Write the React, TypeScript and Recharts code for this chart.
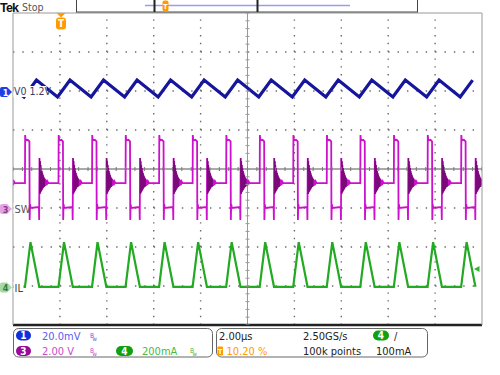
import React from "react";
import { ComposedChart, Line, XAxis, YAxis, ReferenceLine, Scatter } from "recharts";

// ---- screen graduations (2.00 µs/div, 10 x 8 divisions) ----
const majorTime = [0, 2, 4, 6, 8, 10, 12, 14, 16, 18, 20];
const majorDiv = [-4, -3, -2, -1, 0, 1, 2, 3, 4];
const minorTime = Array.from({ length: 51 }, (_, i) => i * 0.4);
const minorDiv = Array.from({ length: 41 }, (_, i) => -4 + i * 0.2);

// ---- switching cycles: SW rising edges (µs) ----
const swEdges = [-0.92, 0.51, 1.94, 3.37, 4.8, 6.23, 7.66, 9.09, 10.52, 11.95, 13.38, 14.81, 16.24, 17.68, 19.11];

// ---- CH1 VO : 20.0 mV/div, offset 1.2 V, marker at +1.97 div ----
const voPos = 1.97;
const voScale = 20;
const voPhase = [-0.04, 0.49];
const voMv = [-2.5, 6.2];

// ---- CH3 SW : 2.00 V/div, marker at -1 div ----
const swPos = -1.0;
const swScale = 2;
const swPhase = [0, 0.008, 0.03, 0.12, 0.19, 0.2, 0.215, 0.24, 0.595, 0.605, 0.62, 0.632, 0.644, 0.656, 0.668, 0.68, 0.692, 0.704, 0.716, 0.728, 0.74, 0.752, 0.764, 0.776, 0.788, 0.8, 0.815, 0.83, 0.85, 0.87, 0.9, 0.93, 0.96, 1.0];
const swVolt = [1.28, 3.74, 3.46, 3.5, 3.42, -0.62, 0.2, 0.0, 0.05, -0.62, 2.56, 0.72, 2.4, 0.8, 2.2, 0.85, 2.05, 0.9, 1.9, 0.95, 1.8, 1.0, 1.7, 1.05, 1.62, 1.08, 1.55, 1.1, 1.5, 1.14, 1.44, 1.18, 1.36, 1.28];
const ringPhase = [0.62, 0.632, 0.644, 0.656, 0.668, 0.68, 0.692, 0.704, 0.716, 0.728, 0.74, 0.752, 0.764, 0.776, 0.788, 0.8, 0.815, 0.83, 0.85];
const ringVolt = [2.56, 0.72, 2.4, 0.8, 2.2, 0.85, 2.05, 0.9, 1.9, 0.95, 1.8, 1.0, 1.7, 1.05, 1.62, 1.08, 1.55, 1.1, 1.5];

// ---- CH4 IL : 200 mA/div, marker at -3.04 div ----
const ilPos = -3.04;
const ilScale = 200;
const ilPhase = [0, 0.235, 0.61];
const ilMa = [4, 233, 4];

type Pt = { t: number; y: number | null };
function build(phases: number[], values: number[], pos: number, scale: number, gap = false): Pt[] {
  const out: Pt[] = [];
  swEdges.forEach((e) => {
    phases.forEach((p, i) => out.push({ t: e + p, y: pos + values[i] / scale }));
    if (gap) out.push({ t: e + phases[phases.length - 1] + 0.001, y: null });
  });
  return out;
}

const voData = build(voPhase, voMv, voPos, voScale);
const swData = build(swPhase, swVolt, swPos, swScale);
const ringData = build(ringPhase, ringVolt, swPos, swScale, true);
const ilData = build(ilPhase, ilMa, ilPos, ilScale);

const hTicks = minorTime.map((t) => ({ t, y: 0 }));
const vTicks = minorDiv.map((d) => ({ t: 10, y: d }));

const NARROW = "'Liberation Sans Narrow','DejaVu Sans Condensed','Arial Narrow',sans-serif";
const ORANGE = "#ff9b00";
const GRID = "#6a6a6a";

const tag = (c: number) =>
  `M2,${c - 5} H7 L12,${c} L7,${c + 5} H2 Q0,${c + 5} 0,${c + 3} V${c - 3} Q0,${c - 5} 2,${c - 5} Z`;

function Pill({ x, y, w, fill, label }: { x: number; y: number; w: number; fill: string; label: string }) {
  return (
    <g>
      <rect x={x} y={y} width={w} height={10} rx={5} fill={fill} />
      <text x={x + w / 2} y={y + 8.5} fontSize={10} fontWeight="bold" fill="#fff" textAnchor="middle">
        {label}
      </text>
    </g>
  );
}

function Bw({ x, y, color }: { x: number; y: number; color: string }) {
  return (
    <g fill={color}>
      <text x={x} y={y} fontSize={6.5}>B</text>
      <text x={x + 2.5} y={y + 3.5} fontSize={6}>w</text>
    </g>
  );
}

export default function App() {
  return (
    <div style={{ position: "absolute", left: 0, top: 0, width: 500, height: 375, background: "#fff" }}>
      <ComposedChart width={500} height={375} margin={{ top: 13, right: 18, bottom: 50, left: 13 }}>
        <XAxis xAxisId="x" dataKey="t" type="number" domain={[0, 20]} ticks={majorTime} allowDataOverflow mirror axisLine={false} tickLine={false} tick={false} />
        <YAxis yAxisId="y" dataKey="y" type="number" domain={[-4, 4]} ticks={majorDiv} allowDataOverflow mirror axisLine={false} tickLine={false} tick={false} />
        <XAxis xAxisId="top" orientation="top" type="number" domain={[0, 20]} ticks={minorTime} allowDataOverflow mirror tickSize={3} tick={false} axisLine={{ stroke: "#999" }} tickLine={{ stroke: "#888" }} />
        <XAxis xAxisId="bottom" orientation="bottom" type="number" domain={[0, 20]} ticks={minorTime} allowDataOverflow mirror tickSize={3} tick={false} axisLine={{ stroke: "#222", strokeWidth: 2.5 }} tickLine={{ stroke: "#888" }} />
        <YAxis yAxisId="left" orientation="left" type="number" domain={[-4, 4]} ticks={minorDiv} allowDataOverflow mirror tickSize={3} tick={false} axisLine={{ stroke: "#999" }} tickLine={{ stroke: "#888" }} />
        <YAxis yAxisId="right" orientation="right" type="number" domain={[-4, 4]} ticks={minorDiv} allowDataOverflow mirror tickSize={3} tick={false} axisLine={{ stroke: "#999" }} tickLine={{ stroke: "#888" }} />
        {majorTime.filter((t) => t > 0 && t < 20 && t !== 10).map((t) => (
          <ReferenceLine key={"gx" + t} xAxisId="x" yAxisId="y" x={t} stroke={GRID} strokeWidth={1.4} strokeDasharray="1.4 6.4" />
        ))}
        {majorDiv.filter((d) => d > -4 && d < 4 && d !== 0).map((d) => (
          <ReferenceLine key={"gy" + d} xAxisId="x" yAxisId="y" y={d} stroke={GRID} strokeWidth={1.4} strokeDasharray="1.4 7.98" />
        ))}
        <ReferenceLine xAxisId="x" yAxisId="y" x={10} stroke="#999" />
        <ReferenceLine xAxisId="x" yAxisId="y" y={0} stroke="#555" />
        <Scatter xAxisId="x" yAxisId="y" data={hTicks} isAnimationActive={false}
          shape={(p: any) => <line x1={p.cx} y1={p.cy - 2} x2={p.cx} y2={p.cy + 2} stroke="#777" />} />
        <Scatter xAxisId="x" yAxisId="y" data={vTicks} isAnimationActive={false}
          shape={(p: any) => <line x1={p.cx - 2} y1={p.cy} x2={p.cx + 2} y2={p.cy} stroke="#999" />} />
        <Line xAxisId="x" yAxisId="y" data={ilData} dataKey="y" type="linear" stroke="#22aa22" strokeWidth={2.2} dot={false} activeDot={false} isAnimationActive={false} />
        <Line xAxisId="x" yAxisId="y" data={swData} dataKey="y" type="linear" stroke="#cc11cc" strokeWidth={1.8} dot={false} activeDot={false} isAnimationActive={false} />
        <Line xAxisId="x" yAxisId="y" data={ringData} dataKey="y" type="linear" stroke="#7a0a7a" strokeWidth={1} dot={false} activeDot={false} connectNulls={false} isAnimationActive={false} />
        <Line xAxisId="x" yAxisId="y" data={voData} dataKey="y" type="linear" stroke="#16169c" strokeWidth={3.2} dot={false} activeDot={false} isAnimationActive={false} />
      </ComposedChart>

      <svg width={500} height={375} style={{ position: "absolute", left: 0, top: 0, pointerEvents: "none" }} fontFamily={NARROW}>
        {/* top status bar */}
        <text x={0} y={12} fontFamily="'Liberation Sans',Arial,sans-serif" fontWeight="bold" fontSize={12.5} letterSpacing={-0.8} fill="#111">Tek</text>
        <text x={22} y={11} fontSize={10.5} fill="#555">Stop</text>
        <rect x={76.5} y={-0.5} width={341} height={12.5} fill="#fff" stroke="#444" />
        <line x1={145} y1={5.5} x2={350} y2={5.5} stroke="#9a9af2" strokeWidth={1.5} />
        <rect x={153.5} y={0} width={2} height={12} fill="#222" />
        <rect x={256.5} y={0} width={2} height={12} fill="#222" />
        <rect x={162.5} y={0.5} width={6} height={11} rx={2} fill={ORANGE} />
        <text x={165.5} y={9} fontSize={7} fill="#fff" textAnchor="middle" fontWeight="bold">T</text>

        {/* trigger position marker */}
        <polygon points="56.5,13 65.5,13 61,17.5" fill={ORANGE} />
        <rect x={56} y={17.5} width={10} height={12} rx={3} fill={ORANGE} />
        <text x={61} y={27} fontSize={10} fontWeight="bold" fill="#fff" textAnchor="middle">T</text>

        {/* channel markers */}
        <path d={tag(92)} fill="#1f3fe6" />
        <text x={5.5} y={95.5} fontSize={9} fontWeight="bold" fill="#fff" textAnchor="middle">1</text>
        <rect x={13.5} y={86} width={33} height={11} fill="#fff" />
        <text x={14} y={94.5} fontSize={10.5} fill="#333a6a">V0 1.2V</text>

        <path d={tag(209)} fill="#e4a4e4" />
        <text x={5.5} y={212.5} fontSize={9} fontWeight="bold" fill="#8a3a8a" textAnchor="middle">3</text>
        <rect x={13.5} y={203} width={14} height={11} fill="#fff" />
        <text x={14.5} y={213} fontSize={11} fill="#555">SW</text>

        <path d={tag(287.5)} fill="#a4d8a4" />
        <text x={5.5} y={291} fontSize={9} fontWeight="bold" fill="#3a7a3a" textAnchor="middle">4</text>
        <rect x={13.5} y={282} width={10} height={11} fill="#fff" />
        <text x={14.5} y={291.5} fontSize={11} fill="#444">IL</text>

        {/* trigger level arrow */}
        <polygon points="474,269 479.5,266 479.5,272" fill="#2db52d" />

        {/* bottom readouts */}
        <rect x={13.5} y={328.5} width={199} height={28.5} rx={5} fill="none" stroke="#666" />
        <rect x={216.5} y={328.5} width={211} height={28.5} rx={5} fill="none" stroke="#666" />

        <Pill x={16} y={330.5} w={15} fill="#1030e0" label="1" />
        <text x={42} y={340} fontSize={11} fill="#5c5cf0">20.0mV</text>
        <Bw x={90} y={337.5} color="#5c5cf0" />

        <Pill x={16} y={346} w={15} fill="#9a0a9a" label="3" />
        <text x={42} y={355} fontSize={11} fill="#c84cc8">2.00 V</text>
        <Bw x={90} y={352.5} color="#c84cc8" />
        <Pill x={116} y={346} w={17} fill="#10a010" label="4" />
        <text x={142} y={355} fontSize={11} fill="#44bb44">200mA</text>
        <Bw x={190} y={352.5} color="#44bb44" />

        <text x={219} y={340} fontSize={11} fill="#222">2.00µs</text>
        <text x={303} y={340} fontSize={11} fill="#222">2.50GS/s</text>
        <Pill x={373} y={330.5} w={16} fill="#10a010" label="4" />
        <text x={394} y={340} fontSize={11} fill="#222">/</text>

        <rect x={217.5} y={346.5} width={5.5} height={9} rx={1} fill={ORANGE} />
        <text x={220.2} y={354} fontSize={7} fontWeight="bold" fill="#fff" textAnchor="middle">T</text>
        <text x={226.5} y={355} fontSize={11} fill={ORANGE}>10.20 %</text>
        <text x={303} y={355} fontSize={11} fill="#222">100k points</text>
        <text x={376} y={355} fontSize={11} fill="#222">100mA</text>
      </svg>
    </div>
  );
}
